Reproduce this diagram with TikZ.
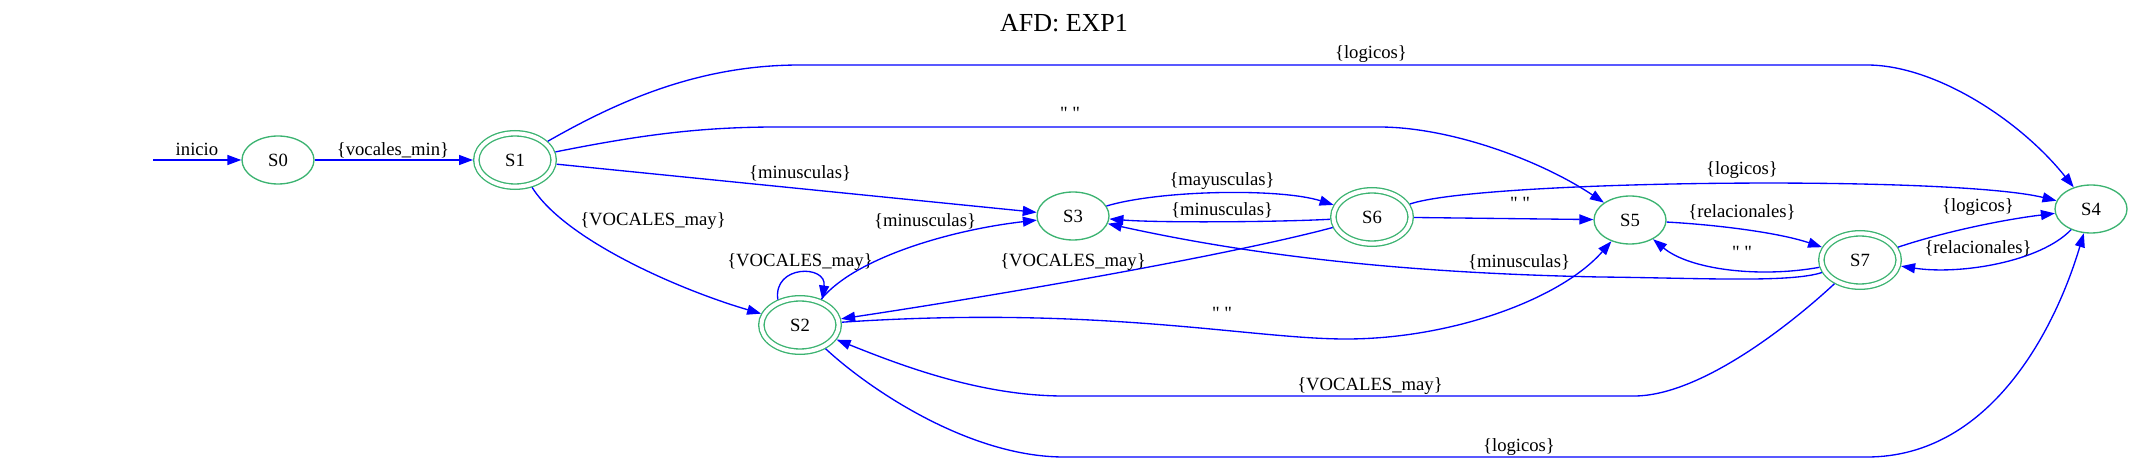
\documentclass[tikz,border=0pt]{standalone}
\usepackage{fontspec}
\setmainfont{Liberation Serif}[Ligatures=TeXOff]
\usetikzlibrary{arrows.meta,shapes.geometric}
\definecolor{nodegreen}{RGB}{60,179,113}
\definecolor{edgeblue}{RGB}{0,0,255}
\begin{document}
\begin{tikzpicture}[x=0.75pt,y=-0.75pt,
  stnode/.style={ellipse,draw=nodegreen,line width=1pt,minimum width=54pt,minimum height=36pt,inner sep=0pt,font=\fontsize{14}{16}\selectfont},
  accnode/.style={ellipse,draw=nodegreen,double=white,double distance=3pt,line width=1pt,minimum width=58pt,minimum height=40pt,inner sep=0pt,outer sep=2.5pt,font=\fontsize{14}{16}\selectfont},
  edgeline/.style={draw=edgeblue,line width=1pt,-{Triangle[length=10.5pt,width=7.5pt]}},
  lbl/.style={font=\fontsize{14}{16}\selectfont,inner sep=0pt}]
\useasboundingbox (0,0) rectangle (2133,463);
\node[font=\fontsize{19.5}{22}\selectfont] (title) at (1064,23) {AFD: EXP1};
% states
\node[stnode]  (S0) at (278,160) {S0};
\node[accnode] (S1) at (515,160) {S1};
\node[accnode] (S2) at (800,325) {S2};
\node[stnode]  (S3) at (1073,216) {S3};
\node[accnode] (S6) at (1372,217) {S6};
\node[stnode]  (S5) at (1630,220) {S5};
\node[accnode] (S7) at (1860,260) {S7};
\node[stnode]  (S4) at (2091,209) {S4};
% start
\coordinate (init) at (153,160);
\draw[edgeline] (init) -- (S0);
\node[lbl] (linit) at (197,149) {inicio};
% S0 -> S1
\draw[edgeline] (S0) -- (S1);
\node[lbl] (l01) at (393,150) {\{vocales\_min\}};
% S1 -> S4
\draw[edgeline] (S1) .. controls (620,100) and (700,65) .. (800,65) -- (1867,65) .. controls (1935,65) and (2020,120) .. (S4);
\node[lbl] (l14) at (1371,54) {\{logicos\}};
% S1 -> S5
\draw[edgeline] (S1) .. controls (640,135) and (700,127) .. (777,127) -- (1379,127) .. controls (1450,127) and (1540,160) .. (S5);
\node[lbl] (l15) at (1070,113) {" "};
% S1 -> S3
\draw[edgeline] (S1) -- (S3);
\node[lbl] (l13) at (800,173) {\{minusculas\}};
% S1 -> S2
\draw[edgeline] (S1) .. controls (565,240) and (680,290) .. (S2);
\node[lbl] (l12) at (653,221) {\{VOCALES\_may\}};
% S2 loop
\draw[edgeline] (S2.131) .. controls +(-5,-35) and +(5,-35) .. (S2.49);
\node[lbl] (l22) at (800,262) {\{VOCALES\_may\}};
% S2 -> S3
\draw[edgeline] (S2) .. controls (855,258) and (950,230) .. (S3);
\node[lbl] (l23) at (925,221) {\{minusculas\}};
% S3 -> S6
\draw[edgeline] (S3) .. controls (1160,190) and (1280,188) .. (S6);
\node[lbl] (l36) at (1222,181) {\{mayusculas\}};
% S6 -> S3
\draw[edgeline] (S6) .. controls (1280,222) and (1160,223) .. (S3);
\node[lbl] (l63) at (1222,210) {\{minusculas\}};
% S6 -> S2
\draw[edgeline] (S6) .. controls (1230,255) and (1000,295) .. (S2);
\node[lbl] (l62) at (1073,262) {\{VOCALES\_may\}};
% S6 -> S5
\draw[edgeline] (S6) -- (S5);
\node[lbl] (l65) at (1520,203) {" "};
% S6 -> S4
\draw[edgeline] (S6) .. controls (1480,180) and (1950,175) .. (S4);
\node[lbl] (l64) at (1742,170) {\{logicos\}};
% S5 -> S7
\draw[edgeline] (S5) .. controls (1720,225) and (1780,233) .. (S7);
\node[lbl] (l57) at (1742,212) {\{relacionales\}};
% S7 -> S5
\draw[edgeline] (S7) .. controls (1760,278) and (1690,270) .. (S5);
\node[lbl] (l75) at (1742,252) {" "};
% S7 -> S3
\draw[edgeline] (S7) .. controls (1790,283) and (1700,278) .. (1600,277) .. controls (1400,273) and (1250,255) .. (S3);
\node[lbl] (l73) at (1519,262) {\{minusculas\}};
% S7 -> S2
\draw[edgeline] (S7) .. controls (1790,325) and (1700,396) .. (1634,396) -- (1064,396) .. controls (980,396) and (900,365) .. (S2);
\node[lbl] (l72) at (1370,386) {\{VOCALES\_may\}};
% S2 -> S5
\draw[edgeline] (S2) .. controls (1100,305) and (1250,339) .. (1346,339) .. controls (1450,339) and (1560,300) .. (S5);
\node[lbl] (l25) at (1222,313) {" "};
% S2 -> S4
\draw[edgeline] (S2) .. controls (870,390) and (970,457) .. (1064,457) -- (1867,457) .. controls (1990,457) and (2055,330) .. (S4);
\node[lbl] (l24) at (1519,447) {\{logicos\}};
% S7 -> S4
\draw[edgeline] (S7) .. controls (1940,233) and (2000,220) .. (S4);
\node[lbl] (l74) at (1978,207) {\{logicos\}};
% S4 -> S7
\draw[edgeline] (S4) .. controls (2040,262) and (1960,275) .. (S7);
\node[lbl] (l47) at (1978,248) {\{relacionales\}};
\end{tikzpicture}
\end{document}
